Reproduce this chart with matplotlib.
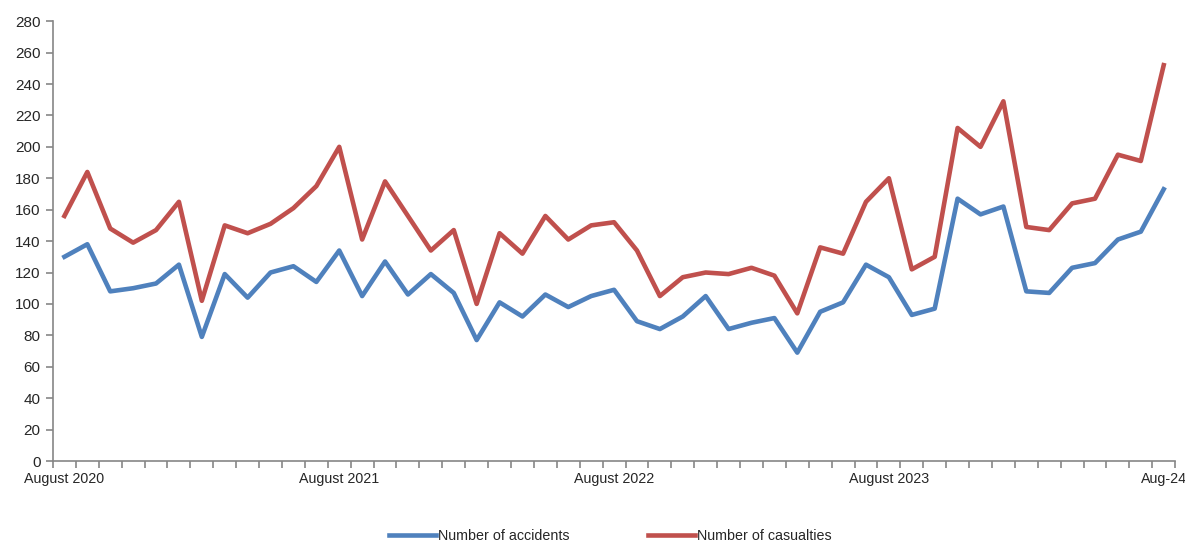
import matplotlib
matplotlib.use("Agg")
import matplotlib.pyplot as plt
from matplotlib import font_manager

# Monthly series, August 2020 .. August 2024
months = [
    "August 2020", "", "", "", "", "", "", "", "", "", "", "",
    "August 2021", "", "", "", "", "", "", "", "", "", "", "",
    "August 2022", "", "", "", "", "", "", "", "", "", "", "",
    "August 2023", "", "", "", "", "", "", "", "", "", "", "",
    "Aug-24",
]
accidents = [
    130, 138, 108, 110, 113, 125, 79, 119, 104, 120, 124, 114,
    134, 105, 127, 106, 119, 107, 77, 101, 92, 106, 98, 105,
    109, 89, 84, 92, 105, 84, 88, 91, 69, 95, 101, 125,
    117, 93, 97, 167, 157, 162, 108, 107, 123, 126, 141, 146,
    173,
]
casualties = [
    156, 184, 148, 139, 147, 165, 102, 150, 145, 151, 161, 175,
    200, 141, 178, 156, 134, 147, 100, 145, 132, 156, 141, 150,
    152, 134, 105, 117, 120, 119, 123, 118, 94, 136, 132, 165,
    180, 122, 130, 212, 200, 229, 149, 147, 164, 167, 195, 191,
    252,
]

BLUE = "#4F81BD"
RED = "#C0504D"
AXIS = "#868686"
TEXT = "#262626"

names = {f.name for f in font_manager.fontManager.ttflist}
family = "Liberation Sans Narrow" if "Liberation Sans Narrow" in names else "Liberation Sans"
plt.rcParams["font.family"] = [family, "DejaVu Sans"]

fig = plt.figure(figsize=(11.85, 5.43), dpi=100)
ax = fig.add_axes([0.0447, 0.151, 0.947, 0.81])

x = list(range(len(months)))
ax.plot(x, accidents, color=BLUE, linewidth=3.3, label="Number of accidents")
ax.plot(x, casualties, color=RED, linewidth=3.3, label="Number of casualties")

ax.set_xlim(-0.5, len(months) - 0.5)
ax.set_ylim(0, 280)
ax.set_yticks(range(0, 281, 20))

# labels sit under the yearly August points, ticks mark the month boundaries
label_idx = [i for i, m in enumerate(months) if m]
ax.set_xticks(label_idx)
ax.set_xticklabels([months[i] for i in label_idx])
ax.set_xticks([i - 0.5 for i in range(len(months) + 1)], minor=True)
ax.tick_params(axis="x", which="major", length=0, pad=8, labelsize=10.3, colors=TEXT)
ax.tick_params(axis="x", which="minor", length=5, width=1.2, direction="out", color=AXIS)
ax.tick_params(axis="y", length=5, width=1.2, direction="out", color=AXIS,
               labelsize=11, labelcolor=TEXT, pad=4)

for side in ("top", "right"):
    ax.spines[side].set_visible(False)
for side in ("left", "bottom"):
    ax.spines[side].set_color(AXIS)
    ax.spines[side].set_linewidth(1.2)

fig.legend(loc="center", bbox_to_anchor=(0.515, 0.012), ncol=2, frameon=False,
           fontsize=10.3, handlelength=3.3, handletextpad=0.15, columnspacing=5.5,
           labelcolor=TEXT)

fig.savefig("out.png", dpi=100)
